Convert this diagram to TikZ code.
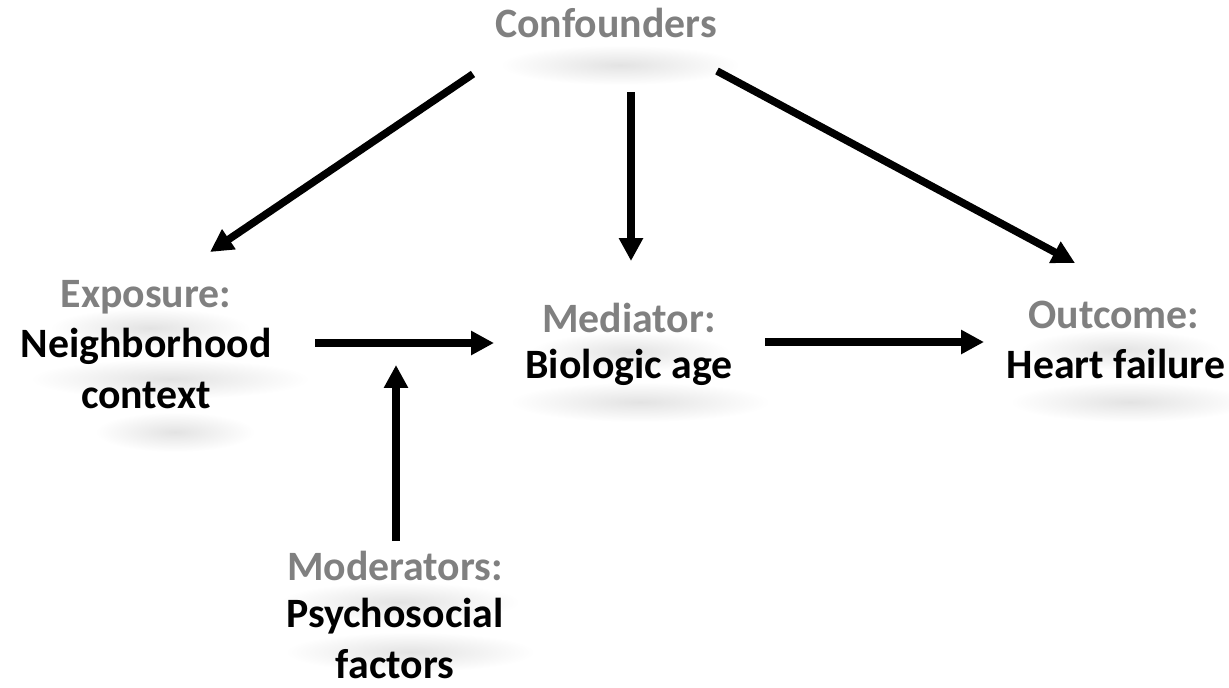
\documentclass[tikz,border=0pt]{standalone}
\usepackage{fontspec}
\setmainfont{Carlito}
\usetikzlibrary{arrows.meta}

\begin{document}
\begin{tikzpicture}[x=0.02cm, y=-0.02cm]
    \tikzstyle{role label} = [text=black!50, font=\fontsize{23.8}{28.5}\selectfont\bfseries, anchor=base, inner sep=0pt]
    \tikzstyle{variable label} = [role label, text=black, align=center]
    \tikzstyle{path edge} = [draw=black, line width=4.3pt, -{Triangle[length=13pt, width=13pt]}]
    \tikzstyle{text shadow} = [inner color=black!11, outer color=white]
\useasboundingbox (0,0) rectangle (1229,687);
% soft shadows under the labels
\foreach \cx/\cy/\rx in {620/65/120, 150/328/100, 170/379/140, 175/432/80,
                         630/352/100, 640/402/130, 1120/350/100, 1130/402/120,
                         400/602/120, 410/652/125}
    \shade[text shadow] (\cx,\cy) ellipse [x radius=\rx*0.02cm, y radius=0.4cm];
\node[role label] (conf) at (606, 37) {Confounders};
\node[role label] (expo-role) at (146, 307) {Exposure:};
\node[variable label] (expo) at (146, 408) {Neighborhood\\context};
\node[role label] (med-role) at (629, 332) {Mediator:};
\node[variable label] (med) at (629, 378) {Biologic age};
\node[role label] (out-role) at (1114, 328) {Outcome:};
\node[variable label] (out) at (1116, 378) {Heart failure};
\node[role label] (mod-role) at (395, 580) {Moderators:};
\node[variable label] (mod) at (395, 678) {Psychosocial\\factors};
\coordinate (conf-l) at (473, 74);
\coordinate (conf-m) at (631, 92);
\coordinate (conf-r) at (717, 71);
\coordinate (expo-in) at (210, 252);
\coordinate (med-in) at (631, 261);
\coordinate (out-in) at (1075, 263);
\coordinate (expo-out) at (315, 343);
\coordinate (med-from-expo) at (494, 343);
\coordinate (med-out) at (765, 342);
\coordinate (out-from-med) at (984, 342);
\coordinate (mod-out) at (396, 541);
\coordinate (mod-in) at (396, 365);
\draw[path edge] (conf-l) to (expo-in);
\draw[path edge] (conf-m) to (med-in);
\draw[path edge] (conf-r) to (out-in);
\draw[path edge] (expo-out) to (med-from-expo);
\draw[path edge] (med-out) to (out-from-med);
\draw[path edge] (mod-out) to (mod-in);
\end{tikzpicture}
\end{document}
